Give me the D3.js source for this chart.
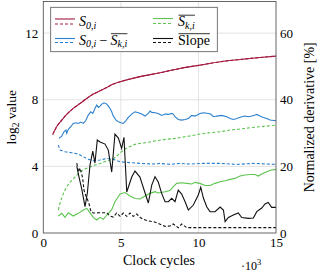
<!DOCTYPE html>
<html><head><meta charset="utf-8">
<script src="https://cdn.jsdelivr.net/npm/d3@7"></script>
<style>
body{margin:0;background:#fff}
svg{display:block}
text{font-family:"Liberation Serif","DejaVu Serif",serif;fill:#000}
</style>
</head><body>
<svg id="c" width="320" height="273"></svg>
<script>
// ---------- data (x in 10^3 clock cycles) ----------
const xTicks = [0, 5, 10, 15];
const yTicksLeft = [0, 4, 8, 12];
const yTicksRight = [0, 20, 40, 60];

// S_{0,i} (log2 value) - solid and dashed practically coincide
const s0Solid = [[0.61,5.92],[0.86,6.38],[1.19,6.78],[1.51,7.12],[1.93,7.48],[2.37,7.78],[2.80,8.08],[3.22,8.34],[3.66,8.54],[4.09,8.74],[4.51,8.94],[4.95,9.08],[6.23,9.39],[7.52,9.62],[8.81,9.88],[10.10,10.08],[11.40,10.28],[12.68,10.42],[13.97,10.54],[15.0,10.62]];
const s0Dashed = [[0.61,5.92],[0.86,6.38],[1.19,6.78],[1.51,7.12],[1.93,7.48],[2.37,7.78],[2.80,8.08],[3.22,8.34],[3.66,8.54],[4.09,8.74],[4.51,8.94],[4.95,9.08],[6.23,9.39],[7.52,9.62],[8.81,9.88],[10.10,10.08],[11.40,10.28],[12.68,10.42],[13.97,10.54],[15.0,10.62]];

// S_{0,i} - mean S_{k,i}
const diffSolid = [[1.01,5.68],[1.19,5.82],[1.33,6.08],[1.46,6.18],[1.51,5.98],[1.61,6.22],[1.77,6.38],[1.93,6.58],[2.11,6.62],[2.26,6.58],[2.41,6.66],[2.58,6.58],[2.73,6.74],[2.90,7.08],[3.06,7.28],[3.19,7.18],[3.33,7.48],[3.44,7.68],[3.55,7.54],[3.66,7.62],[3.77,7.74],[3.91,7.82],[4.09,7.74],[4.19,7.62],[4.30,7.48],[4.41,7.28],[4.51,7.02],[4.69,6.78],[4.84,6.68],[5.01,6.62],[5.16,6.58],[5.27,6.68],[5.48,6.94],[5.70,7.14],[5.91,7.28],[6.13,7.22],[6.34,7.14],[6.56,7.02],[6.77,7.18],[6.88,7.32],[6.99,7.24],[7.20,7.22],[7.41,7.18],[7.63,7.06],[7.85,7.14],[8.06,7.12],[8.28,7.18],[8.38,7.14],[8.49,6.98],[8.70,6.82],[8.92,6.78],[9.14,6.82],[9.35,6.88],[9.57,7.06],[9.78,7.02],[9.93,7.08],[10.10,7.18],[10.32,7.22],[10.64,7.18],[10.79,7.14],[10.96,6.98],[11.18,7.02],[11.50,7.06],[11.82,6.98],[12.04,6.88],[12.25,6.82],[12.47,6.88],[12.79,6.98],[13.00,7.02],[13.22,6.98],[13.44,7.02],[13.65,7.08],[13.76,7.12],[13.97,7.02],[14.18,6.94],[14.40,6.88],[14.62,6.78],[15.0,6.74]];
const diffDashed = [[0.97,5.28],[1.08,4.98],[1.40,4.88],[1.83,4.82],[2.26,4.74],[2.58,4.58],[2.90,4.42],[3.22,4.34],[3.66,4.38],[4.09,4.48],[4.51,4.42],[4.95,4.28],[5.38,4.24],[6.23,4.18],[7.09,4.14],[7.52,4.18],[8.17,4.12],[8.81,4.18],[9.46,4.14],[10.32,4.18],[11.40,4.18],[12.47,4.12],[13.54,4.18],[15.0,4.12]];

// mean S_{k,i}
const skSolid = [[0.97,1.02],[1.19,1.18],[1.40,0.94],[1.61,1.22],[1.93,1.02],[2.26,1.18],[2.58,1.38],[2.80,1.48],[3.01,1.22],[3.22,0.94],[3.44,0.78],[3.66,0.94],[3.87,0.82],[4.09,1.08],[4.41,1.40],[4.62,1.88],[4.95,2.34],[5.27,2.43],[5.59,2.22],[5.91,2.07],[6.23,2.04],[6.56,2.22],[6.88,2.38],[7.20,2.48],[7.41,2.40],[7.85,2.48],[8.17,2.55],[8.38,2.78],[8.60,2.98],[8.92,3.02],[9.25,2.98],[9.57,2.94],[9.78,3.04],[10.10,2.98],[10.43,2.85],[10.75,2.85],[11.07,2.98],[11.40,3.08],[11.72,3.14],[12.04,3.22],[12.36,3.28],[12.68,3.42],[13.00,3.48],[13.33,3.51],[13.65,3.51],[13.86,3.42],[14.08,3.54],[14.40,3.68],[14.72,3.78],[15.0,3.82]];
const skDashed = [[0.97,1.38],[1.08,1.80],[1.21,2.16],[1.40,2.58],[1.59,2.88],[1.85,3.18],[2.11,3.42],[2.37,3.66],[2.69,3.84],[3.01,3.96],[3.33,4.08],[3.66,4.17],[3.98,4.29],[4.30,4.38],[4.62,4.53],[4.95,4.80],[5.27,5.04],[5.59,5.19],[5.91,5.32],[6.56,5.42],[7.20,5.52],[7.85,5.62],[8.49,5.68],[9.14,5.78],[9.78,5.88],[10.10,5.94],[10.75,6.02],[11.40,6.08],[12.04,6.18],[12.68,6.24],[13.33,6.32],[13.97,6.38],[14.62,6.44],[15.0,6.48]];

// Slope (normalized derivative, %)
const slopeSolid = [[2.16,20.1],[2.26,17.7],[2.48,13.2],[2.69,7.9],[2.84,12.0],[3.01,20.4],[3.19,24.6],[3.33,21.0],[3.48,27.9],[3.66,27.3],[3.98,26.7],[4.19,24.9],[4.41,18.3],[4.62,29.7],[4.84,28.5],[5.05,25.4],[5.20,28.7],[5.38,12.3],[5.70,16.8],[5.91,18.6],[6.23,16.8],[6.56,12.0],[6.77,9.0],[6.99,14.4],[7.20,16.9],[7.41,15.3],[7.63,11.9],[7.85,9.4],[8.06,9.4],[8.28,10.4],[8.49,9.4],[8.70,12.9],[8.92,11.7],[9.14,9.4],[9.35,6.9],[9.67,8.4],[9.99,11.4],[10.15,13.7],[10.32,10.5],[10.54,7.8],[10.75,6.4],[11.07,6.4],[11.40,7.8],[11.61,6.9],[11.72,3.4],[11.93,4.65],[12.25,5.4],[12.57,6.0],[12.79,4.65],[13.22,4.4],[13.54,4.5],[13.76,6.4],[14.08,7.5],[14.29,8.7],[14.50,9.15],[14.72,7.7],[15.0,7.7]];
const slopeDashed = [[2.16,21.0],[2.26,18.3],[2.37,19.5],[2.54,16.5],[2.62,12.9],[2.75,11.1],[2.84,10.2],[2.97,8.4],[3.06,6.6],[3.22,6.0],[3.66,6.1],[4.09,6.1],[4.30,5.1],[4.51,4.8],[4.73,6.0],[4.95,5.0],[5.16,6.0],[5.38,5.0],[5.59,6.0],[5.80,5.0],[6.02,5.7],[6.23,4.7],[6.45,4.1],[6.77,3.6],[7.09,3.4],[7.41,2.9],[7.63,2.4],[7.85,2.0],[8.17,2.1],[8.38,2.7],[8.70,1.6],[8.92,2.7],[9.25,1.6],[9.46,1.6],[10.5,1.6],[11.5,1.6],[12.5,1.6],[13.5,1.6],[14.5,1.6],[15.0,1.6]];

// ---------- chart ----------
const SERIF = '"Liberation Serif","DejaVu Serif",serif';
const RED = "#a3193f", BLUE = "#2a7fce", GREEN = "#5cc44f", BLACK = "#111";
const m = {l: 43.3, r: 276, t: 1.5, b: 233};
const svg = d3.select("#c");
const x = d3.scaleLinear().domain([0, 15]).range([m.l, m.r]);
const yL = d3.scaleLinear().domain([0, 13.9]).range([m.b, m.t]);
const yR = d3.scaleLinear().domain([0, 69.5]).range([m.b, m.t]);

// grid
const grid = svg.append("g").attr("stroke", "#dcdcdc").attr("stroke-width", 0.8);
xTicks.filter(t => t > 0 && t < 15).forEach(t => grid.append("line")
  .attr("x1", x(t)).attr("x2", x(t)).attr("y1", m.t).attr("y2", m.b));
yTicksLeft.filter(t => t > 0).forEach(t => grid.append("line")
  .attr("x1", m.l).attr("x2", m.r).attr("y1", yL(t)).attr("y2", yL(t)));

svg.append("clipPath").attr("id", "clip").append("rect")
  .attr("x", m.l).attr("y", m.t).attr("width", m.r - m.l).attr("height", m.b - m.t);

const plot = svg.append("g").attr("clip-path", "url(#clip)").attr("fill", "none").attr("stroke-width", 1.1);
const lineL = d3.line().x(d => x(d[0])).y(d => yL(d[1]));
const lineLs = d3.line().x(d => x(d[0])).y(d => yL(d[1])).curve(d3.curveMonotoneX);
const lineR = d3.line().x(d => x(d[0])).y(d => yR(d[1]));
const DASH = "3,2";

plot.append("path").datum(skDashed).attr("d", lineLs).attr("stroke", GREEN).attr("stroke-dasharray", DASH);
plot.append("path").datum(diffDashed).attr("d", lineL).attr("stroke", BLUE).attr("stroke-dasharray", DASH);
plot.append("path").datum(skSolid).attr("d", lineL).attr("stroke", GREEN);
plot.append("path").datum(diffSolid).attr("d", lineL).attr("stroke", BLUE);
plot.append("path").datum(slopeDashed).attr("d", lineR).attr("stroke", BLACK).attr("stroke-dasharray", DASH);
plot.append("path").datum(slopeSolid).attr("d", lineR).attr("stroke", BLACK);
plot.append("path").datum(s0Dashed).attr("d", lineLs).attr("stroke", RED).attr("stroke-dasharray", DASH);
plot.append("path").datum(s0Solid).attr("d", lineLs).attr("stroke", RED);

// frame
svg.append("rect").attr("x", m.l).attr("y", m.t).attr("width", m.r - m.l).attr("height", m.b - m.t)
  .attr("fill", "none").attr("stroke", "#555").attr("stroke-width", 0.9);

// axes
const FS = "13px";
const ax = (g) => { g.attr("font-family", SERIF); g.select(".domain").remove(); g.selectAll("text").attr("font-size", FS).attr("font-family", SERIF); };
svg.append("g").attr("transform", `translate(${m.l},0)`)
  .call(d3.axisLeft(yL).tickValues(yTicksLeft).tickSize(0).tickPadding(5).tickFormat(d3.format("d"))).call(ax);
svg.append("g").attr("transform", `translate(${m.r},0)`)
  .call(d3.axisRight(yR).tickValues(yTicksRight).tickSize(0).tickPadding(4).tickFormat(d3.format("d"))).call(ax);
svg.append("g").attr("transform", `translate(0,${m.b})`)
  .call(d3.axisBottom(x).tickValues(xTicks).tickSize(0).tickPadding(5).tickFormat(d3.format("d"))).call(ax);

// axis titles
svg.append("text").attr("transform", `translate(16,${(m.t + m.b) / 2}) rotate(-90)`)
  .attr("text-anchor", "middle").attr("font-size", "13.5px").attr("font-family", SERIF)
  .call(t => { t.append("tspan").text("log"); t.append("tspan").attr("font-size", "9.5px").attr("dy", 3).text("2"); t.append("tspan").attr("dy", -3).text(" value"); });
svg.append("text").attr("transform", `translate(314,${(m.t + m.b) / 2}) rotate(-90)`)
  .attr("text-anchor", "middle").attr("font-size", "14px").attr("font-family", SERIF).text("Normalized derivative [%]");
svg.append("text").attr("x", 159).attr("y", 265).attr("text-anchor", "middle").attr("font-size", "14px").attr("font-family", SERIF).text("Clock cycles");
svg.append("text").attr("x", 241).attr("y", 269.5).attr("font-size", "12px").attr("font-family", SERIF)
  .call(t => { t.append("tspan").text("·10"); t.append("tspan").attr("font-size", "8.5px").attr("dy", -5).text("3"); });

// legend
const lg = svg.append("g").attr("font-family", SERIF);
lg.append("rect").attr("x", 50.7).attr("y", 7.3).attr("width", 166.6).attr("height", 44.4)
  .attr("fill", "#fff").attr("stroke", "#555").attr("stroke-width", 0.8);
const sw = (x1, y1, y2, c) => {
  lg.append("line").attr("x1", x1).attr("x2", x1 + 20).attr("y1", y1).attr("y2", y1).attr("stroke", c).attr("stroke-width", 1.1);
  lg.append("line").attr("x1", x1).attr("x2", x1 + 20).attr("y1", y2).attr("y2", y2).attr("stroke", c).attr("stroke-width", 1.1).attr("stroke-dasharray", DASH);
};
sw(55, 19, 24, RED);
sw(55, 38.5, 42.5, BLUE);
sw(153, 18.5, 23.5, GREEN);
sw(153, 38.5, 42.5, BLACK);

function sSym(xp, yp, sub) {
  const t = lg.append("text").attr("x", xp).attr("y", yp).attr("font-size", "14px").attr("font-family", SERIF);
  t.append("tspan").attr("font-style", "italic").text("S");
  t.append("tspan").attr("font-style", "italic").attr("font-size", "10px").attr("dy", 2.8).text(sub);
  return t;
}
function overline(t) {
  const b = t.node().getBBox();
  lg.append("line").attr("x1", b.x + 0.5).attr("x2", b.x + b.width).attr("y1", b.y + 1.2).attr("y2", b.y + 1.2)
    .attr("stroke", "#000").attr("stroke-width", 0.8);
}
sSym(79, 26, "0,i");
const a = sSym(79, 44.5, "0,i");
const aw = a.node().getBBox();
const minus = lg.append("text").attr("x", aw.x + aw.width + 3).attr("y", 44.5).attr("font-size", "14px").attr("font-family", SERIF).text("−");
const mw = minus.node().getBBox();
const b2 = sSym(mw.x + mw.width + 3, 44.5, "k,i");
overline(b2);
const c1 = sSym(178, 26, "k,i");
overline(c1);
const sl = lg.append("text").attr("x", 178).attr("y", 44.5).attr("font-size", "14px").attr("font-family", SERIF).text("Slope");
overline(sl);
</script>
</body></html>
